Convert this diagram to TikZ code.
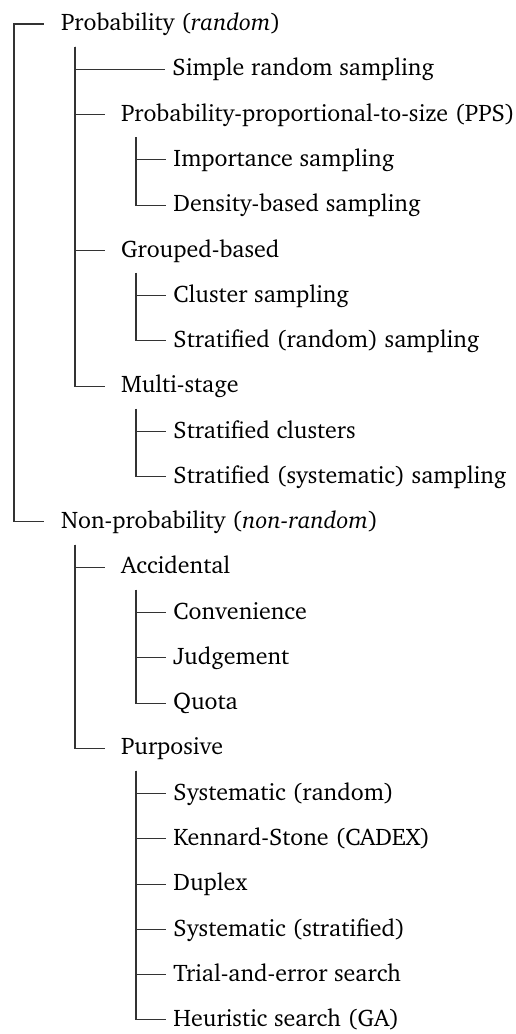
\documentclass[tikz,border=0pt]{standalone}
\usepackage[T1]{fontenc}
\usepackage{charter}
\begin{document}
\begin{tikzpicture}[x=0.48pt, y=-21.73pt,
  tree/.style={draw=black!80, line width=0.5pt},
  label/.style={anchor=west, inner xsep=0pt, inner ysep=0pt,
    text height=8.6pt, text depth=2.2pt, font=\fontsize{11.5}{13}\selectfont},
  toplabel/.style={label, outer xsep=8.2pt},
  midlabel/.style={label, outer xsep=7.7pt},
  leaflabel/.style={label, outer xsep=3.6pt}]
\useasboundingbox (0,-0.5302) rectangle (516,22.311);

% probability branch
\node[toplabel]  (prob)    at (44,0)   {Probability (\textit{random})};
\node[leaflabel] (srs)     at (165,1)  {Simple random sampling};
\node[midlabel]  (pps)     at (105,2)  {Probability-proportional-to-size (PPS)};
\node[leaflabel] (imp)     at (166,3)  {Importance sampling};
\node[leaflabel] (dens)    at (166,4)  {Density-based sampling};
\node[midlabel]  (grp)     at (105,5)  {Grouped-based};
\node[leaflabel] (clus)    at (166,6)  {Cluster sampling};
\node[leaflabel] (strr)    at (166,7)  {Stratified (random) sampling};
\node[midlabel]  (multi)   at (105,8)  {Multi-stage};
\node[leaflabel] (strc)    at (166,9)  {Stratified clusters};
\node[leaflabel] (strs)    at (166,10) {Stratified (systematic) sampling};

% non-probability branch
\node[toplabel]  (nonprob) at (44,11)  {Non-probability (\textit{non-random})};
\node[midlabel]  (acc)     at (105,12) {Accidental};
\node[leaflabel] (conv)    at (166,13) {Convenience};
\node[leaflabel] (judg)    at (166,14) {Judgement};
\node[leaflabel] (quota)   at (166,15) {Quota};
\node[midlabel]  (purp)    at (105,16) {Purposive};
\node[leaflabel] (sysr)    at (166,17) {Systematic (random)};
\node[leaflabel] (ks)      at (166,18) {Kennard-Stone (CADEX)};
\node[leaflabel] (dup)     at (166,19) {Duplex};
\node[leaflabel] (syss)    at (166,20) {Systematic (stratified)};
\node[leaflabel] (trial)   at (166,21) {Trial-and-error search};
\node[leaflabel] (heur)    at (166,22) {Heuristic search (GA)};

% trunk tops
\coordinate (t0)  at (14,0);
\coordinate (t1a) at (75,0.5);
\coordinate (t2a) at (136,2.5);
\coordinate (t2b) at (136,5.5);
\coordinate (t2c) at (136,8.5);
\coordinate (t1b) at (75,11.5);
\coordinate (t2d) at (136,12.5);
\coordinate (t2e) at (136,16.5);

\draw[tree] (prob.west) -- (t0) |- (nonprob.west);
\foreach \c in {srs,pps,grp,multi} \draw[tree] (t1a) |- (\c.west);
\foreach \c in {imp,dens} \draw[tree] (t2a) |- (\c.west);
\foreach \c in {clus,strr} \draw[tree] (t2b) |- (\c.west);
\foreach \c in {strc,strs} \draw[tree] (t2c) |- (\c.west);
\foreach \c in {acc,purp} \draw[tree] (t1b) |- (\c.west);
\foreach \c in {conv,judg,quota} \draw[tree] (t2d) |- (\c.west);
\foreach \c in {sysr,ks,dup,syss,trial,heur} \draw[tree] (t2e) |- (\c.west);
\end{tikzpicture}
\end{document}
